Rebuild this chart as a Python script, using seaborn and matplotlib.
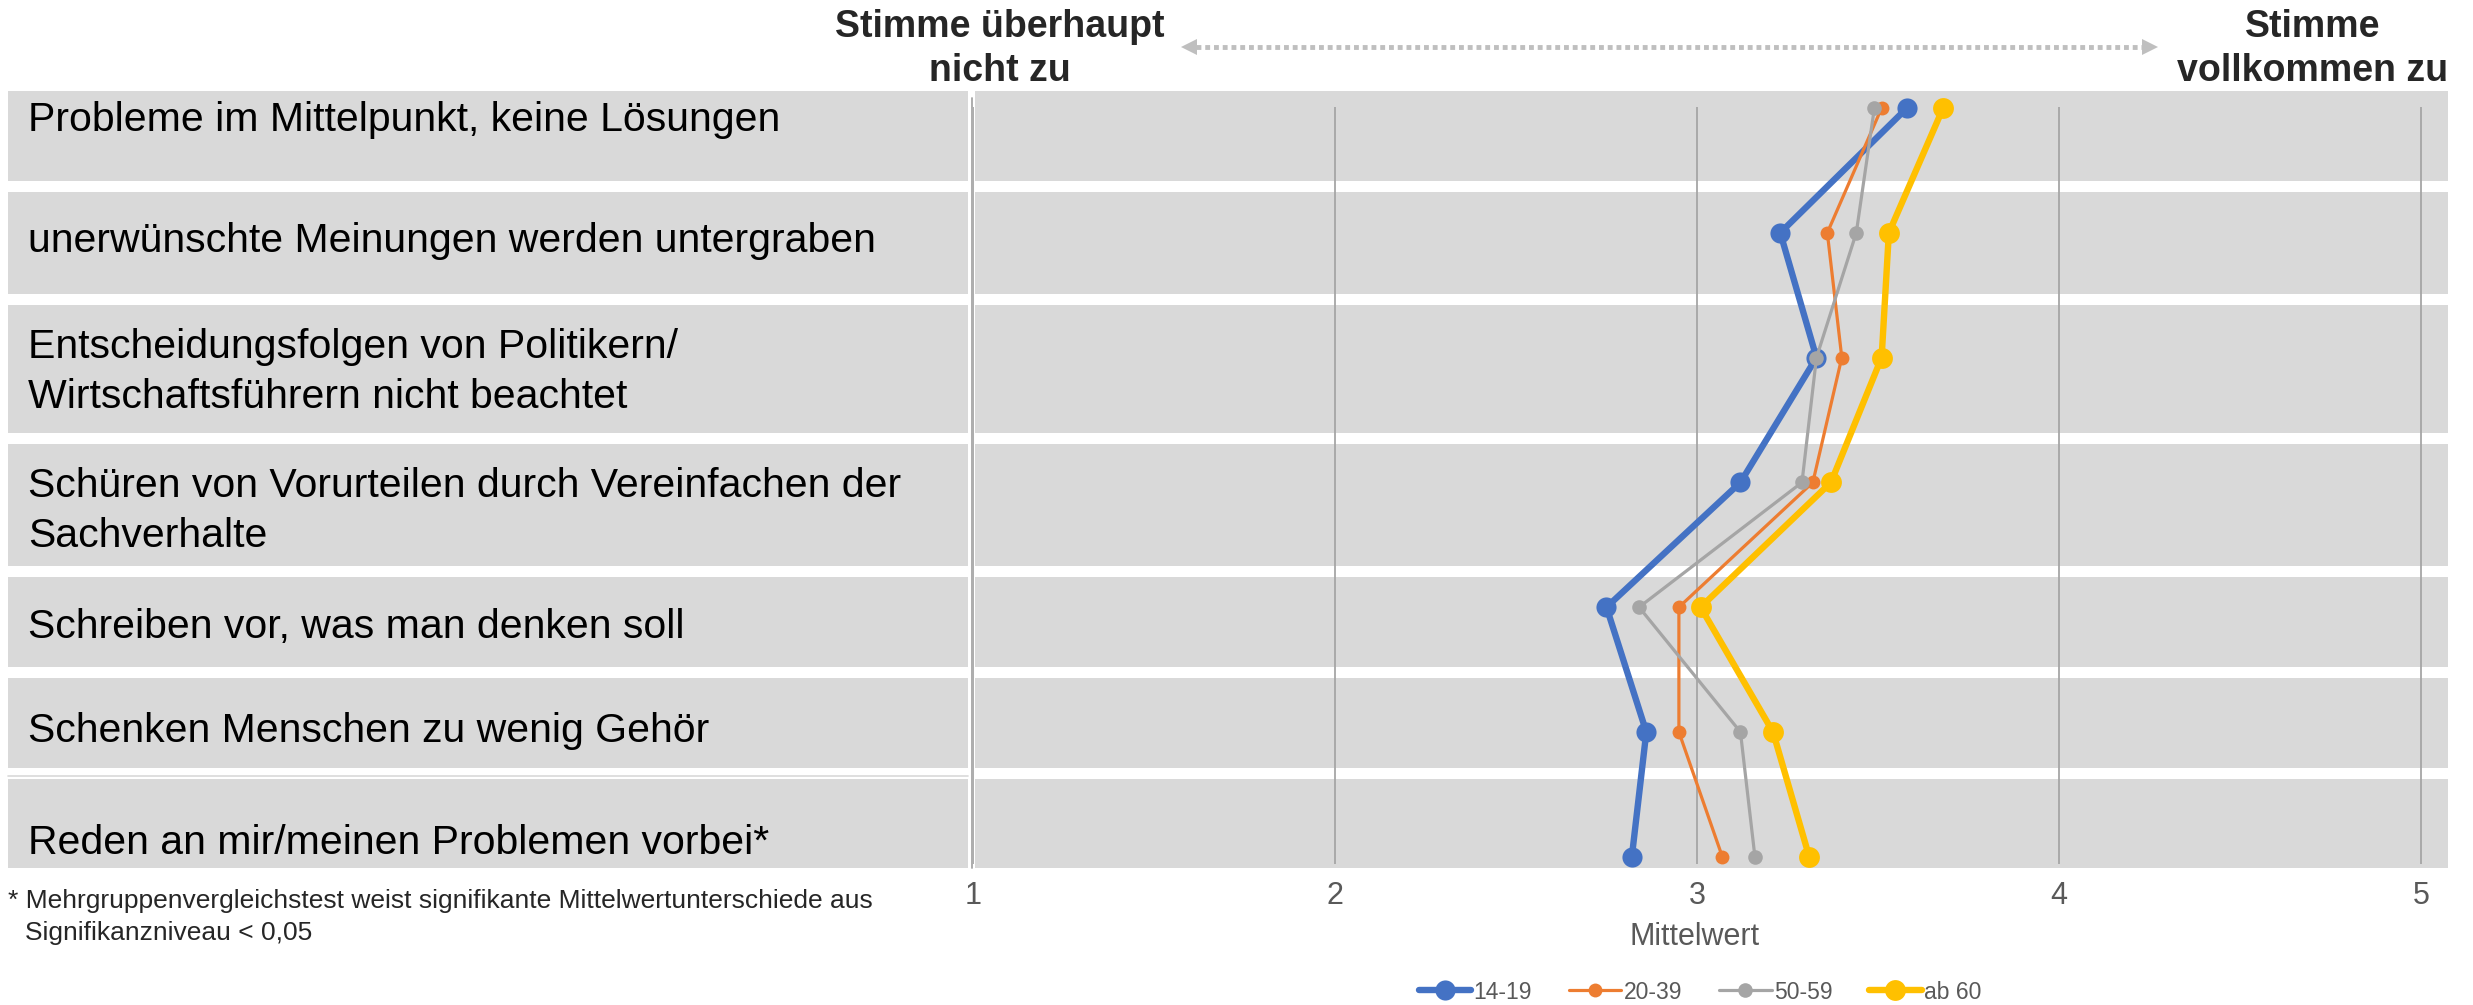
import numpy as np
import pandas as pd
import matplotlib
matplotlib.use("Agg")
import matplotlib.pyplot as plt
import seaborn as sns
from matplotlib.patches import Rectangle
from matplotlib.lines import Line2D

# ---------------- data ----------------
categories = [
    "Probleme im Mittelpunkt, keine Lösungen",
    "unerwünschte Meinungen werden untergraben",
    "Entscheidungsfolgen von Politikern/\nWirtschaftsführern nicht beachtet",
    "Schüren von Vorurteilen durch Vereinfachen der\nSachverhalte",
    "Schreiben vor, was man denken soll",
    "Schenken Menschen zu wenig Gehör",
    "Reden an mir/meinen Problemen vorbei*",
]
groups = ["14-19", "20-39", "50-59", "ab 60"]
v_14_19 = [3.58, 3.23, 3.33, 3.12, 2.75, 2.86, 2.82]
v_20_39 = [3.51, 3.36, 3.40, 3.32, 2.95, 2.95, 3.07]
v_50_59 = [3.49, 3.44, 3.33, 3.29, 2.84, 3.12, 3.16]
v_ab_60 = [3.68, 3.53, 3.51, 3.37, 3.01, 3.21, 3.31]
x_ticks = [1, 2, 3, 4, 5]
x_label = "Mittelwert"
header_left = "Stimme überhaupt\nnicht zu"
header_right = "Stimme\nvollkommen zu"
footnote_1 = "* Mehrgruppenvergleichstest weist signifikante Mittelwertunterschiede aus"
footnote_2 = "Signifikanzniveau < 0,05"

# ---------------- style ----------------
sns.set_style("white")
plt.rcParams["font.family"] = ["Liberation Sans", "DejaVu Sans"]

W, H = 2473, 1005
fig = plt.figure(figsize=(W / 100, H / 100), dpi=100)


def fx(px):
    return px / W


def fy(py):
    return 1 - py / H


band_color = "#D9D9D9"
band_rows = [(91, 181), (192, 294), (305, 433), (444, 566), (577, 667), (678, 768), (779, 868)]
label_y = [120, 241, 372, 511, 627, 731, 843]

# row backgrounds (left label boxes + right bands)
for (t, b) in band_rows:
    fig.patches.append(Rectangle((fx(8), fy(b)), fx(968) - fx(8), (b - t) / H,
                                 transform=fig.transFigure, facecolor=band_color,
                                 edgecolor="none", zorder=-2))
    fig.patches.append(Rectangle((fx(975), fy(b)), fx(2448) - fx(975), (b - t) / H,
                                 transform=fig.transFigure, facecolor=band_color,
                                 edgecolor="none", zorder=-2))
# thin double line at top of last label box
fig.lines.append(Line2D([fx(8), fx(968)], [fy(776), fy(776)], transform=fig.transFigure,
                        color=band_color, lw=1.2))

# row labels
for lab, yy in zip(categories, label_y):
    fig.text(fx(28), fy(yy), lab, fontsize=29.5, color="black", ha="left",
             va="center", linespacing=1.42)

# main axes
ax_left, ax_right = 973, 2448
ax_top, ax_bot = 107, 864
ax = fig.add_axes([fx(ax_left), fy(ax_bot), (ax_right - ax_left) / W, (ax_bot - ax_top) / H])
ax.set_facecolor("none")

ypos = np.arange(len(categories))
series = [
    (v_14_19, "#4472C4", 4.6, 14.5),
    (v_20_39, "#ED7D31", 2.3, 10.0),
    (v_50_59, "#A5A5A5", 2.3, 10.5),
    (v_ab_60, "#FFC000", 4.6, 15.0),
]
handles = []
for (vals, col, lw, ms), name in zip(series, groups):
    df = pd.DataFrame({"Mittelwert": vals, "pos": ypos})
    sns.lineplot(data=df, x="Mittelwert", y="pos", ax=ax, sort=False, estimator=None,
                 orient="y", color=col, linewidth=lw, marker="o", markersize=ms,
                 markeredgewidth=0, clip_on=False, legend=False)
    handles.append(Line2D([0], [0], color=col, lw=lw, marker="o", markersize=ms,
                          markeredgewidth=0, solid_capstyle="round"))

unit = (ax_right - ax_left) / 362.0
ax.set_xlim(1, 1 + unit)
step = 124.8
ax.set_ylim((ax_bot - 108) / step, (ax_top - 108) / step)
ax.set_yticks([])
ax.set_ylabel("")
ax.set_xticks(x_ticks)
ax.set_xticklabels([str(t) for t in x_ticks])
ax.grid(axis="x", color="#A6A6A6", lw=1.3)
ax.grid(axis="y", visible=False)
ax.set_axisbelow(True)
for s in ax.spines.values():
    s.set_visible(False)
ax.tick_params(axis="x", length=0, labelsize=22, labelcolor="#595959", pad=12)
ax.set_xlabel(x_label, fontsize=22, color="#595959")
ax.xaxis.set_label_coords((1695 - ax_left) / (ax_right - ax_left), -(937 - ax_bot) / (ax_bot - ax_top))
ax.xaxis.label.set_verticalalignment("center")

# left border line of the plot area
fig.lines.append(Line2D([fx(972), fx(972)], [fy(98), fy(868)], transform=fig.transFigure,
                        color="#A6A6A6", lw=1.3))

# header texts
fig.text(fx(1000), fy(49), header_left, fontsize=27, fontweight="bold", ha="center",
         va="center", multialignment="center", linespacing=1.28)
fig.text(fx(2313), fy(49), header_right, fontsize=27, fontweight="bold", ha="center",
         va="center", multialignment="center", linespacing=1.28)

# dotted double arrow
arrow_col = "#BFBFBF"
fig.lines.append(Line2D([fx(1196), fx(2143)], [fy(47), fy(47)], transform=fig.transFigure,
                        color=arrow_col, lw=3.5, ls=(0, (1.0, 0.8))))
fig.lines.append(Line2D([fx(1189)], [fy(47)], transform=fig.transFigure, color=arrow_col,
                        marker="<", markersize=11, markeredgewidth=0, ls="none"))
fig.lines.append(Line2D([fx(2150)], [fy(47)], transform=fig.transFigure, color=arrow_col,
                        marker=">", markersize=11, markeredgewidth=0, ls="none"))

# footnote
fig.text(fx(8), fy(901), footnote_1, fontsize=19, ha="left", va="center")
fig.text(fx(25), fy(933), footnote_2, fontsize=19, ha="left", va="center")

# legend
leg = fig.legend(handles, groups, loc="center", bbox_to_anchor=(fx(1700), fy(992)), ncol=4,
                 frameon=False, fontsize=16.5, handlelength=2.3, handletextpad=0.1,
                 columnspacing=1.6, labelcolor="#595959")

fig.savefig("out.png", dpi=100)
